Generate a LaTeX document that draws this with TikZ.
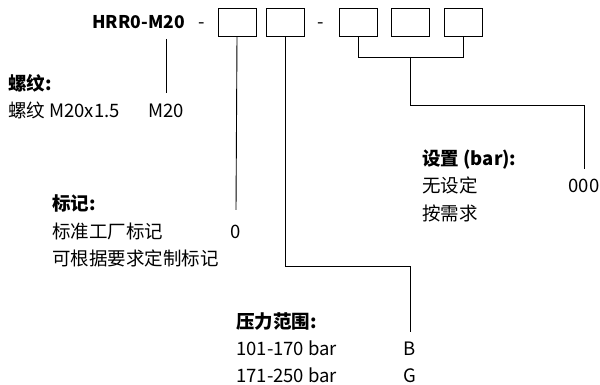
\documentclass[tikz,border=0pt]{standalone}
\usepackage{fontspec}
\setmainfont{Noto Sans CJK SC}
\usetikzlibrary{positioning}
\tikzset{
  codebox/.style={rectangle, draw, line width=0.9pt, minimum width=38pt, minimum height=28pt, inner sep=0pt},
  txt/.style={anchor=base west, inner sep=0pt},
  head/.style={txt, font=\bfseries\fontsize{18.5}{22}\selectfont},
  val/.style={anchor=base, inner sep=0pt},
  leader/.style={line width=0.9pt}
}

\begin{document}
\begin{tikzpicture}[x=1pt, y=-1pt, font=\fontsize{18.5}{22}\selectfont]
  \useasboundingbox (0,0) rectangle (600,385);
  % order code
  \node [head, anchor=base east, font=\bfseries\fontsize{17.5}{21}\selectfont] (code) at (185,29) {HRR0-M20};
  \node [val] (dashA) at (202,29) {-};
  \node [codebox] (b1) at (237,22) {};
  \node [codebox, right=10pt of b1] (b2) {};
  \node [val] (dashB) at (321,29) {-};
  \node [codebox] (b3) at (358,22) {};
  \node [codebox, right=14pt of b3] (b4) {};
  \node [codebox, right=14pt of b4] (b5) {};

  % thread
  \node [head] (threadH) at (8,91) {螺纹:};
  \node [txt] (thread) at (8,118) {螺纹 M20x1.5};
  \node [val] (m20) at (166,118) {M20};

  % marking
  \node [head] (markH) at (52,211) {标记:};
  \node [txt] (markA) at (52,238) {标准工厂标记};
  \node [txt] (markB) at (52,265) {可根据要求定制标记};
  \node [val] (mark0) at (236,238) {0};

  % setting
  \node [head] (setH) at (422,166) {设置 (bar):};
  \node [txt] (setA) at (422,193) {无设定};
  \node [txt] (setB) at (422,220) {按需求};
  \node [val] (set0) at (584,193) {000};

  % pressure range
  \node [head] (presH) at (236,328) {压力范围:};
  \node [txt] (presA) at (236,355) {101-170 bar};
  \node [txt] (presB) at (236,382) {171-250 bar};
  \node [val] (presBv) at (410,355) {B};
  \node [val] (presGv) at (410,382) {G};

  % leaders
  \draw [leader] (m20.north |- 0,39) -- ([yshift=11.5pt]m20.north);
  \draw [leader] (b1.south) -- ([yshift=14.5pt]mark0.north);
  \draw [leader] (b2.south) |- (presBv.north |- 0,266) -- ([yshift=9.5pt]presBv.north);
  \draw [leader] (b3.south) -- ++(0,21) -| (b5.south);
  \draw [leader] (b4.south |- 0,57) -- (b4.south |- 0,105) -| ([yshift=10.5pt]set0.north);
\end{tikzpicture}
\end{document}
